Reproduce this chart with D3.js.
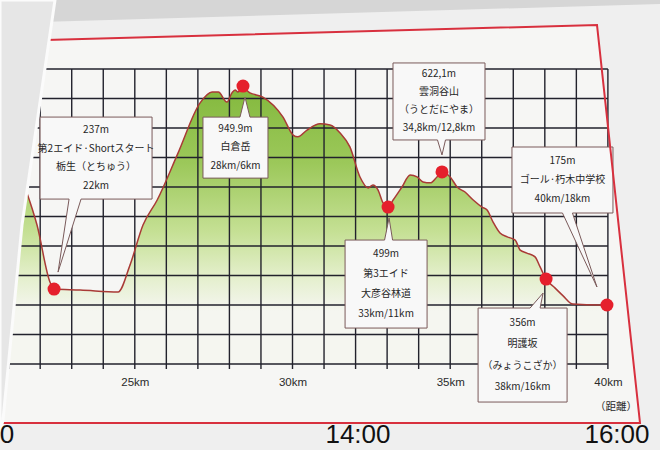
<!DOCTYPE html>
<html><head><meta charset="utf-8">
<script src="https://cdn.jsdelivr.net/npm/d3@7"></script>
<style>html,body{margin:0;padding:0;background:#d3d3d3;overflow:hidden}svg{display:block}</style>
</head><body>
<svg id="c" width="660" height="450"></svg>
<script>
// ---------- data ----------
const kmTicks = [25, 30, 35, 40];
const kmUnit = "km";
const distanceLabel = "（距離）";
const kmGrid = [20,21,22,23,24,25,26,27,28,29,30,31,32,33,34,35,36,37,38,39,40];
const elevGrid = [0,100,200,300,400,500,600,700,800,900,1000];

const profileKm = [20.3, 20.9, 21.58, 21.9, 22.31, 22.44, 23.27, 24.47, 24.85, 25.26, 25.71, 26.37, 27.07, 27.45, 27.65, 27.92, 28.08, 28.18, 28.27, 28.43, 28.65, 29.06, 29.70, 30.02, 30.17, 30.46, 30.87, 31.19, 31.51, 31.82, 32.14, 32.40, 32.55, 32.71, 32.87, 33.03, 33.19, 33.47, 33.73, 33.95, 34.14, 34.37, 34.58, 34.74, 35.00, 35.22, 35.47, 35.73, 36.01, 36.17, 36.36, 36.58, 36.81, 37.06, 37.22, 37.43, 37.69, 37.85, 38.04, 38.32, 38.58, 38.89, 39.75, 39.97];
const profileElev = [880, 740, 580, 471, 278, 254, 251, 244, 336, 471, 556, 715, 885, 922, 922, 888, 919, 929, 922, 935, 919, 905, 837, 776, 770, 793, 814, 810, 783, 736, 634, 597, 607, 590, 546, 532, 556, 600, 641, 634, 617, 614, 634, 651, 634, 600, 583, 556, 532, 522, 481, 444, 431, 420, 386, 376, 363, 329, 288, 258, 231, 203, 200, 200];

const markerKm = [22.44, 28.43, 33.03, 34.74, 38.04, 39.97];
const markerElev = [254, 942, 532, 651, 288, 200];
const markerText = [
  ["237m", "第2エイド·Shortスタート", "栃生（とちゅう）", "22km"],
  ["949.9m", "白倉岳", "28km/6km"],
  ["499m", "第3エイド", "大彦谷林道", "33km/11km"],
  ["622,1m", "雲洞谷山", "（うとだにやま）", "34,8km/12,8km"],
  ["356m", "明護坂", "（みょうこざか）", "38km/16km"],
  ["175m", "ゴール·朽木中学校", "40km/18km"]
];

// only the last digit of the leftmost time label is visible in the photo
const timeLabels = ["0", "14:00", "16:00"];
const timeHours = [12, 14, 16];

// ---------- layout (positions / sizes, separate from data) ----------
const callout = [
  {dx:-14, dy:-172, w:112, h:82, side:"bottom", pc:35, ph:6, tx:4, ty:-17, lh:18.5},
  {dx:-40, dy:31, w:65, h:61, side:"top", pc:42, ph:5, tx:2, ty:11, lh:18.5},
  {dx:-43, dy:33, w:82, h:88, side:"top", pc:43.5, ph:4, tx:1, ty:11, lh:20},
  {dx:-49, dy:-109, w:92, h:77, side:"bottom", pc:48.5, ph:4, tx:0, ty:-17, lh:18},
  {dx:-68, dy:29, w:89, h:94, side:"top", pc:57, ph:5, tx:-3, ty:14, lh:21.5},
  {dx:-95, dy:-158, w:101, h:66, side:"bottom", pc:55.5, ph:5, tx:-10, ty:-18, lh:19}
];

const W = 660, H = 450;
const svg = d3.select("#c");
const x = d3.scaleLinear().domain([20, 40]).range([-22.9, 607.9]);
const y = d3.scaleLinear().domain([0, 1000]).range([364, 69]);
const t = d3.scaleLinear().domain([12, 14, 16]).range([7, 358, 617]);

// backgrounds (photo paper)
svg.append("rect").attr("width", W).attr("height", H).attr("fill", "#d6d6d6");
svg.append("path").attr("d", "M40,22 L660,4 L660,450 L0,450 L0,23 Z").attr("fill", "#efefef");
svg.append("path").attr("d", "M-5,41.3 L597,25 L640,423 L-5,423 Z").attr("fill", "#f6f6f4");

// gradient
const defs = svg.append("defs");
const gr = defs.append("linearGradient").attr("id", "gr")
  .attr("gradientUnits", "userSpaceOnUse")
  .attr("x1", 0).attr("x2", 0).attr("y1", y(950)).attr("y2", y(180));
[[0, "#82b83c"], [0.35, "#9cc85a"], [0.65, "#c5e094"], [0.85, "#e4efcc"], [1, "#f5f6f0"]]
  .forEach(([o, c]) => gr.append("stop").attr("offset", o).attr("stop-color", c));

const profile = profileKm.map((k, i) => ({km: k, e: profileElev[i]}));

const area = d3.area().x(d => x(d.km)).y0(y(0)).y1(d => y(d.e)).curve(d3.curveMonotoneX);
svg.append("path").datum(profile).attr("d", area).attr("fill", "url(#gr)");

// grid
const grid = svg.append("g").attr("stroke", "#22222c").attr("stroke-width", 1.4);
grid.selectAll("line.v").data(kmGrid).join("line").attr("class", "v")
  .attr("x1", d => x(d)).attr("x2", d => x(d))
  .attr("y1", y(1000)).attr("y2", y(0) + 5);
grid.selectAll("line.h").data(elevGrid).join("line").attr("class", "h")
  .attr("x1", x(20)).attr("x2", x(40))
  .attr("y1", d => y(d)).attr("y2", d => y(d));

// profile line
const line = d3.line().x(d => x(d.km)).y(d => y(d.e)).curve(d3.curveMonotoneX);
svg.append("path").datum(profile).attr("d", line)
  .attr("fill", "none").attr("stroke", "#a93a36").attr("stroke-width", 1.5);

// callouts
const markers = markerKm.map((k, i) => ({km: k, e: markerElev[i], text: markerText[i], L: callout[i]}));
const cg = svg.append("g");
markers.forEach(m => {
  const mx = x(m.km), my = y(m.e), L = m.L;
  const left = mx + L.dx, top = my + L.dy, right = left + L.w, bottom = top + L.h;
  const bc = left + L.pc, tipx = mx + L.tx, tipy = my + L.ty;
  let d;
  if (L.side === "bottom") {
    d = `M${left},${top} H${right} V${bottom} H${bc + L.ph} L${tipx},${tipy} L${bc - L.ph},${bottom} H${left} Z`;
  } else {
    d = `M${left},${top} H${bc - L.ph} L${tipx},${tipy} L${bc + L.ph},${top} H${right} V${bottom} H${left} Z`;
  }
  cg.append("path").attr("d", d).attr("fill", "#f8f8f8")
    .attr("stroke", "#7a5a5a").attr("stroke-width", 1);
  const n = m.text.length;
  const y0 = top + (L.h - (n - 1) * L.lh) / 2;
  cg.selectAll(null).data(m.text).join("text")
    .attr("x", left + L.w / 2).attr("y", (d, i) => y0 + i * L.lh)
    .attr("text-anchor", "middle").attr("dominant-baseline", "middle")
    .attr("font-family", "'Noto Sans CJK JP', sans-serif").attr("font-size", 10)
    .attr("fill", "#262626").text(d => d);
});

// markers
svg.selectAll("circle.m").data(markers).join("circle").attr("class", "m")
  .attr("cx", d => x(d.km)).attr("cy", d => y(d.e)).attr("r", 6.5)
  .attr("fill", "#e5202c");

// x axis
const ax = svg.append("g").attr("transform", `translate(0,${y(0)})`)
  .call(d3.axisBottom(x).tickValues(kmTicks).tickFormat(d => d + kmUnit).tickSize(0).tickPadding(14));
ax.select(".domain").remove();
ax.selectAll("text").attr("font-family", "'Liberation Sans', Arial, sans-serif")
  .attr("font-size", 11.5).attr("fill", "#2a2a2a");
svg.append("text").attr("x", x(40) + 8).attr("y", y(0) + 43)
  .attr("text-anchor", "middle").attr("dominant-baseline", "middle")
  .attr("font-family", "'Noto Sans CJK JP', sans-serif").attr("font-size", 10.5)
  .attr("fill", "#2a2a2a").text(distanceLabel);

// red frame
svg.append("path").attr("d", "M-5,41.3 L597,25 L640,423 L-5,423")
  .attr("fill", "none").attr("stroke", "#d8303e").attr("stroke-width", 2);

// overlapping sheet at left
svg.append("path").attr("d", "M0,0 L55,0 L22,225 L3,420 L0,432 Z")
  .attr("fill", "#e6e6e6").attr("stroke", "#fbfbfb").attr("stroke-width", 3);

// time labels
svg.selectAll("text.tm").data(timeLabels).join("text").attr("class", "tm")
  .attr("x", (d, i) => t(timeHours[i])).attr("y", 443)
  .attr("text-anchor", "middle")
  .attr("font-family", "'Liberation Sans', Arial, sans-serif").attr("font-size", 26)
  .attr("fill", "#111").text(d => d);
</script>
</body></html>
